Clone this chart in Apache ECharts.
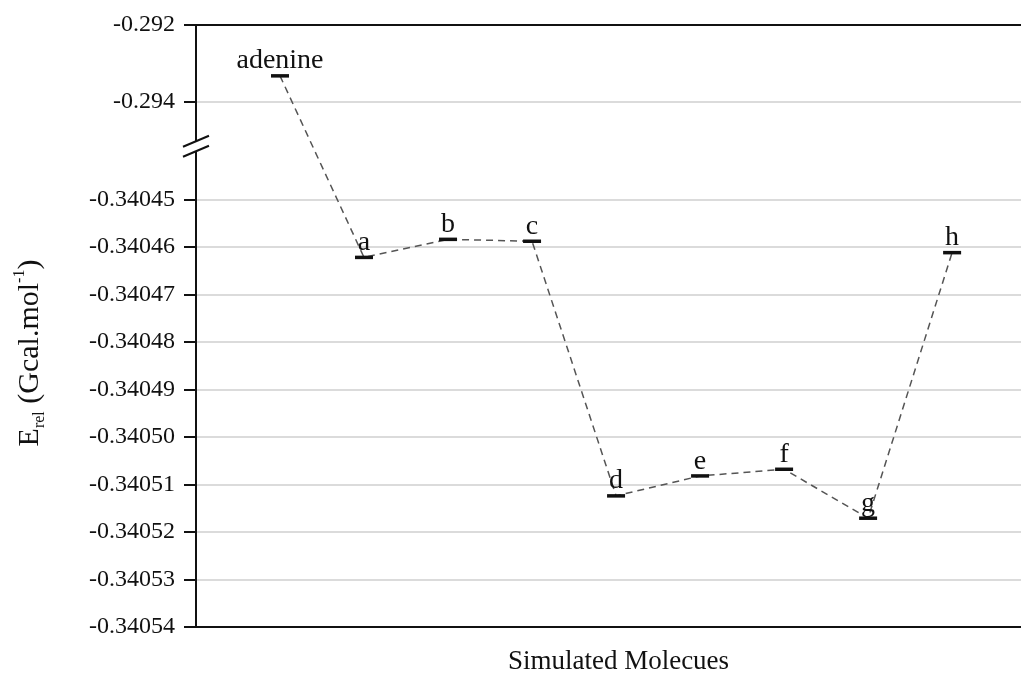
<!DOCTYPE html>
<html><head><meta charset="utf-8">
<script src="https://cdn.jsdelivr.net/npm/echarts@6/dist/echarts.min.js"></script>
<style>html,body{margin:0;padding:0;background:#fff}#c{width:1021px;height:676px}</style>
</head><body><div id="c"></div>
<script>
// ---- data ----
const categories = ['adenine', 'a', 'b', 'c', 'd', 'e', 'f', 'g', 'h'];
const energies = [-0.29332, -0.3404622, -0.3404584, -0.3404588, -0.3405124, -0.3405082, -0.3405068, -0.3405171, -0.3404612];
const yTickValues = [-0.34054, -0.34053, -0.34052, -0.34051, -0.34050, -0.34049, -0.34048, -0.34047, -0.34046, -0.34045, -0.294, -0.292];
const yTickLabels = ['-0.34054', '-0.34053', '-0.34052', '-0.34051', '-0.34050', '-0.34049', '-0.34048', '-0.34047', '-0.34046', '-0.34045', '-0.294', '-0.292'];
const xTitle = 'Simulated Molecues';

// ---- broken axis: piecewise-linear display scale ----
const LOW_MIN = -0.34054, LOW_STEP = 0.00001;
const UP_REF = -0.294, UP_REF_POS = 11.05, UP_SCALE = 811;
const BREAK_POS = 10.12;
function toDisp(v) {
  return v < -0.3 ? (v - LOW_MIN) / LOW_STEP : UP_REF_POS + (v - UP_REF) * UP_SCALE;
}
const tickDisp = yTickValues.map(toDisp);
const FONT = '"Liberation Serif", "Times New Roman", serif';

const chart = echarts.init(document.getElementById('c'), null, {renderer: 'canvas'});
const option = {
  animation: false,
  backgroundColor: '#fff',
  grid: {left: 196, right: 0, top: 25, bottom: 49, containLabel: false, outerBoundsMode: 'none'},
  xAxis: [{
    type: 'value', min: 0, max: 9.82, position: 'bottom',
    axisLine: {show: true, lineStyle: {color: '#111', width: 2}},
    axisTick: {show: false}, axisLabel: {show: false}, splitLine: {show: false},
    name: xTitle, nameLocation: 'middle', nameGap: 21,
    nameTextStyle: {fontFamily: FONT, fontSize: 27, color: '#111', padding: [0, 0, 0, 20]}
  }, {
    type: 'value', min: 0, max: 9.82, position: 'top',
    axisLine: {show: true, lineStyle: {color: '#111', width: 2}},
    axisTick: {show: false}, axisLabel: {show: false}, splitLine: {show: false}
  }],
  yAxis: {
    type: 'value', min: 0, max: toDisp(-0.292),
    axisLine: {show: true, lineStyle: {color: '#111', width: 2}},
    axisTick: {show: true, length: 12, lineStyle: {color: '#111', width: 2}, customValues: tickDisp},
    axisLabel: {
      customValues: tickDisp, margin: 21, fontFamily: FONT, fontSize: 24, color: '#111',
      formatter: function (val) {
        let best = 0, bd = Infinity;
        tickDisp.forEach((d, i) => { const k = Math.abs(d - val); if (k < bd) { bd = k; best = i; } });
        return yTickLabels[best];
      }
    },
    splitLine: {show: true, lineStyle: {color: '#cfcfcf', width: 1.5}},
    name: '{e|E}{sub|rel}{e| (Gcal.mol}{sup|-1}{e|)}',
    nameLocation: 'middle', nameGap: 148, nameRotate: 90,
    nameTextStyle: {
      padding: [0, 54, 0, 0],
      rich: {
        e: {fontFamily: FONT, fontSize: 30, color: '#111', lineHeight: 36},
        sub: {fontFamily: FONT, fontSize: 16, color: '#111', verticalAlign: 'bottom', lineHeight: 36},
        sup: {fontFamily: FONT, fontSize: 16, color: '#111', verticalAlign: 'top', lineHeight: 36}
      }
    }
  },
  series: [{
    type: 'line',
    data: energies.map((e, i) => [i + 1, toDisp(e)]),
    lineStyle: {color: '#555', width: 1.5, type: [7, 5]},
    symbol: 'rect', symbolSize: [18, 3.5], showAllSymbol: true,
    itemStyle: {color: '#111'},
    label: {
      show: true, position: 'top', distance: -1,
      fontFamily: FONT, fontSize: 28, color: '#111',
      formatter: p => categories[p.dataIndex]
    },
    z: 5
  }]
};
chart.setOption(option);

const ax = chart.convertToPixel({xAxisIndex: 0}, 0);
const by = chart.convertToPixel({yAxisIndex: 0}, BREAK_POS);
chart.setOption({
  graphic: [
    {type: 'rect', z: 100, shape: {x: ax - 4, y: by - 5, width: 8, height: 10}, style: {fill: '#fff'}},
    {type: 'line', z: 101, shape: {x1: ax - 13, y1: by - 5 + 5.5, x2: ax + 13, y2: by - 5 - 5.5}, style: {stroke: '#111', lineWidth: 2}},
    {type: 'line', z: 101, shape: {x1: ax - 13, y1: by + 5 + 5.5, x2: ax + 13, y2: by + 5 - 5.5}, style: {stroke: '#111', lineWidth: 2}}
  ]
});
</script>
</body></html>
